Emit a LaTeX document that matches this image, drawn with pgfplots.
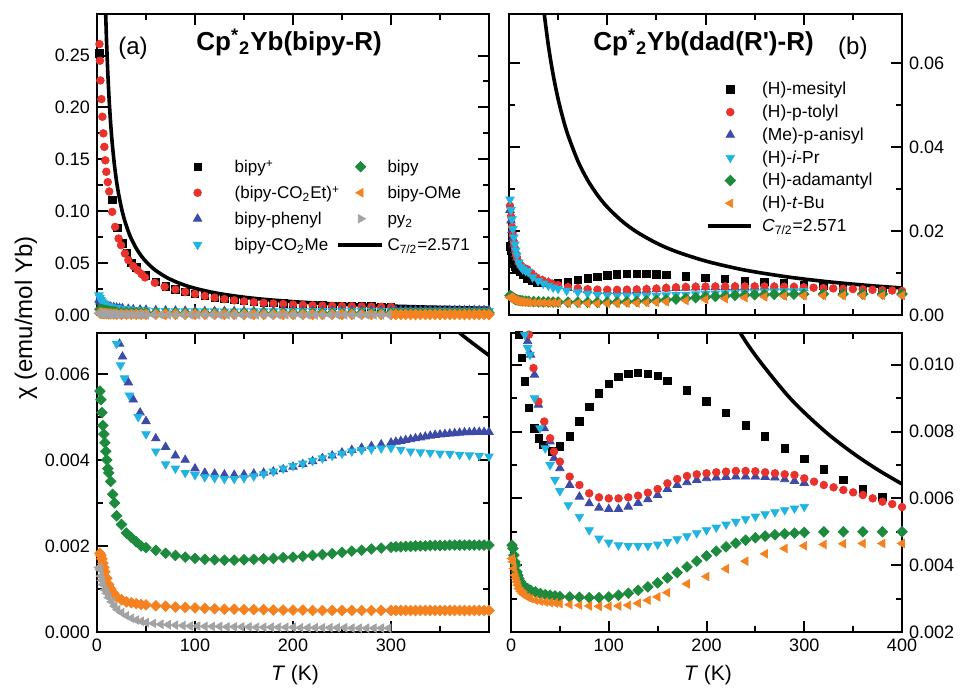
\documentclass[border=0pt]{standalone}
\usepackage{fontspec}
\setmainfont{Liberation Sans}
\usepackage{pgfplots}
\usepackage{pgfplotstable}
\pgfplotsset{compat=1.18}

\definecolor{cred}{HTML}{E8322B}
\definecolor{cblue}{HTML}{3C4BA8}
\definecolor{ccyan}{HTML}{22B4E0}
\definecolor{cgreen}{HTML}{1E8A3E}
\definecolor{corange}{HTML}{F58220}
\definecolor{cgray}{HTML}{A3A3A3}

% ---- panel (a) data ----
\pgfplotstableread{
T chi
2.5 0.252
15.6 0.111
20.7 0.084
26 0.069
30.5 0.060
35 0.050
40 0.046
50 0.038
60 0.032
70 0.0275
80 0.0247
90 0.0222
100 0.0203
110 0.0186
120 0.0171
130 0.0158
140 0.0147
150 0.0138
160 0.0129
170 0.0122
180 0.0116
190 0.0110
200 0.0105
210 0.0100
220 0.0096
230 0.0093
240 0.0090
250 0.0087
260 0.0085
270 0.0083
280 0.0081
290 0.0079
300 0.0077
}\tAbpy
\pgfplotstableread{
T chi
2.5 0.261
3 0.245
3.5 0.226
4.5 0.208
5.5 0.191
6.5 0.175
7.5 0.162
8.5 0.149
9.5 0.138
11 0.128
12.5 0.119
15.5 0.0994
18.5 0.0849
22 0.0737
24.5 0.0673
28.5 0.0593
32 0.0529
37 0.0471
41.5 0.0433
45.5 0.0394
49 0.0362
59 0.0310
69 0.0272
80 0.0245
90 0.0222
100 0.0203
110 0.0184
120 0.0167
130 0.0153
140 0.0141
150 0.0131
160 0.0123
170 0.0116
180 0.0110
190 0.0105
200 0.0100
210 0.0096
220 0.0093
230 0.0090
240 0.0088
250 0.0086
260 0.0084
270 0.0082
280 0.0081
290 0.0079
300 0.0078
}\tAest
\pgfplotstableread{
T chi
2 0.0145
3 0.0130
4 0.0120
6 0.0105
8 0.0096
10 0.0089
12 0.0083
14 0.0079
17 0.0075
20 0.0071
23 0.0067
26 0.0064
32 0.0058
37 0.0054
44 0.0051
50 0.0049
60 0.0045
70 0.0043
80 0.0041
90 0.0040
100 0.0038
110 0.0037
120 0.00368
130 0.00366
140 0.00365
150 0.00366
160 0.00368
170 0.00370
180 0.00373
190 0.00378
200 0.00384
210 0.00390
220 0.00397
230 0.00404
240 0.00410
250 0.00417
260 0.00423
270 0.00428
280 0.00432
290 0.00436
300 0.00440
305 0.00442
310 0.00444
315 0.00446
320 0.00448
325 0.00450
330 0.00452
335 0.00454
340 0.00456
345 0.00458
350 0.00459
355 0.00460
360 0.00461
365 0.00462
370 0.00463
375 0.00464
380 0.00464
385 0.00465
390 0.00465
395 0.00465
400 0.00465
}\tAph
\pgfplotstableread{
T chi
2 0.0190
3 0.0165
4 0.0145
5 0.0130
6 0.0118
8 0.0101
10 0.0090
12 0.0083
15 0.0076
20 0.0067
24 0.0062
28 0.0059
33 0.0055
42 0.0050
50 0.0046
60 0.0042
70 0.0039
80 0.0038
90 0.0037
100 0.00365
110 0.00360
120 0.00358
130 0.00356
140 0.00356
150 0.00358
160 0.00362
170 0.00367
180 0.00373
190 0.00380
200 0.00386
210 0.00392
220 0.00398
230 0.00404
240 0.00410
250 0.00415
260 0.00420
270 0.00423
280 0.00425
290 0.00427
300 0.00428
310 0.00424
320 0.00420
330 0.00418
340 0.00417
350 0.00415
360 0.00414
370 0.00412
380 0.00411
390 0.00410
400 0.00408
}\tAme
\pgfplotstableread{
T chi
3 0.0056
4 0.0054
5 0.0051
6 0.0048
7 0.0046
8 0.0044
9 0.0042
10 0.0040
11 0.0038
12 0.0037
14 0.0035
16 0.0032
18 0.0030
20 0.0027
25 0.0025
30 0.0023
35 0.0022
40 0.0021
45 0.0020
50 0.00196
60 0.00190
70 0.00183
80 0.00178
90 0.00174
100 0.00171
110 0.00169
120 0.00168
130 0.00167
140 0.00167
150 0.00168
160 0.00169
170 0.00170
180 0.00171
190 0.00173
200 0.00174
210 0.00176
220 0.00178
230 0.00180
240 0.00182
250 0.00185
260 0.00188
270 0.00190
280 0.00193
290 0.00195
300 0.00197
305 0.00198
310 0.00198
315 0.00199
320 0.00199
325 0.00200
330 0.00200
335 0.00200
340 0.00201
345 0.00201
350 0.00201
355 0.00201
360 0.00202
365 0.00202
370 0.00202
375 0.00202
380 0.00202
385 0.00202
390 0.00202
395 0.00202
400 0.00202
}\tAbipy
\pgfplotstableread{
T chi
3 0.00183
4 0.00178
5 0.00170
6 0.00160
7 0.00150
8 0.00140
10 0.00125
12 0.00110
14 0.00100
17 0.00090
20 0.00082
25 0.00075
30 0.00070
35 0.00068
40 0.00066
45 0.00064
50 0.00063
60 0.00061
70 0.00060
80 0.00058
90 0.00057
100 0.00056
110 0.00055
120 0.00054
130 0.00053
140 0.00053
150 0.00052
160 0.00052
170 0.00052
180 0.00051
190 0.00051
200 0.00051
210 0.00051
220 0.00050
230 0.00050
240 0.00050
250 0.00050
260 0.00050
270 0.00050
280 0.00050
290 0.00050
300 0.00050
305 0.00050
310 0.00050
315 0.00050
320 0.00050
325 0.00050
330 0.00050
335 0.00050
340 0.00050
345 0.00050
350 0.00050
355 0.00050
360 0.00050
365 0.00050
370 0.00050
375 0.00050
380 0.00050
385 0.00050
390 0.00050
395 0.00050
400 0.00050
}\tAome
\pgfplotstableread{
T chi
2 0.00150
3 0.00145
4 0.00130
5 0.00120
6 0.00110
8 0.00098
10 0.00090
12 0.00080
15 0.00070
18 0.00060
21 0.00052
25 0.00045
30 0.00038
35 0.00032
40 0.00028
45 0.00025
50 0.00022
57.5 0.00020
65 0.00018
72.5 0.00017
80 0.00016
87.5 0.00015
95 0.00014
102.5 0.00014
110 0.00013
117.5 0.00013
125 0.00013
132.5 0.00012
140 0.00012
147.5 0.00012
155 0.00012
162.5 0.00011
170 0.00011
177.5 0.00011
185 0.00011
192.5 0.00011
200 0.00011
207.5 0.00010
215 0.00010
222.5 0.00010
230 0.00010
237.5 0.00010
245 0.00010
252.5 0.00010
260 0.00009
267.5 0.00009
275 0.00009
282.5 0.00009
290 0.00009
297.5 0.00009
}\tApy
% ---- Curie line C/T, C = 2.571 ----
\pgfplotstableread{
T chi
8.8 0.29216
9.5 0.27063
10 0.25710
11 0.23373
12 0.21425
13 0.19777
14 0.18364
15 0.17140
16 0.16069
18 0.14283
20 0.12855
22 0.11686
25 0.10284
28 0.09182
32 0.08034
35 0.07346
40 0.06428
45 0.05713
50 0.05142
55 0.04675
60 0.04285
70 0.03673
80 0.03214
90 0.02857
100 0.02571
115 0.02236
130 0.01978
150 0.01714
170 0.01512
200 0.01286
230 0.01118
250 0.01028
280 0.00918
300 0.00857
325 0.00791
350 0.00735
375 0.00686
400 0.00643
}\tCurie
% ---- panel (b) data ----
\pgfplotstableread{
T chi
1 0.0163
2 0.0152
3 0.0141
4 0.0131
5 0.0123
6 0.0116
7 0.0111
8.2 0.0109
11 0.0102
14.3 0.0095
18.4 0.0087
23.9 0.0081
28.6 0.0078
33 0.0076
42 0.0074
50 0.00756
60 0.00786
70 0.00830
80 0.00873
90 0.00914
100 0.00943
110 0.00963
120 0.00972
130 0.00975
140 0.00972
150 0.00966
160 0.00952
180 0.00923
200 0.00890
220 0.00855
240 0.00818
260 0.00785
280 0.00750
300 0.00718
320 0.00687
340 0.00655
360 0.00627
380 0.00605
}\tBmes
\pgfplotstableread{
T chi
1 0.0260
2 0.0235
3 0.0210
4 0.0190
5 0.0172
6 0.0158
7 0.0146
8 0.0137
10 0.0125
12 0.0118
14 0.0114
16 0.0111
18.4 0.0109
23 0.0099
28 0.0089
34 0.0083
40 0.0078
44 0.0074
50 0.0071
60 0.00665
70 0.00640
80 0.00615
90 0.00603
100 0.00600
110 0.00600
120 0.00603
130 0.00608
140 0.00617
150 0.00628
160 0.00645
170 0.00658
180 0.00667
190 0.00672
200 0.00675
210 0.00678
220 0.00680
230 0.00682
240 0.00682
250 0.00681
260 0.00678
270 0.00675
280 0.00672
290 0.00670
300 0.00660
310 0.00650
320 0.00640
330 0.00633
340 0.00625
350 0.00618
360 0.00610
370 0.00600
380 0.00590
390 0.00583
400 0.00574
}\tBtol
\pgfplotstableread{
T chi
1 0.0250
2 0.0225
3 0.0202
4 0.0183
5 0.0168
6 0.0155
7 0.0145
8 0.0137
10 0.0127
12 0.0119
14 0.0113
17 0.0107
20 0.0103
24 0.0097
28 0.0088
34 0.0081
40 0.0077
44 0.0072
50 0.0069
60 0.0064
70 0.00605
80 0.00585
90 0.00572
100 0.00568
110 0.00568
120 0.00575
130 0.00586
140 0.00597
150 0.00610
160 0.00628
170 0.00640
180 0.00648
190 0.00655
200 0.00660
210 0.00662
220 0.00664
230 0.00665
240 0.00665
250 0.00665
260 0.00664
270 0.00662
280 0.00657
290 0.00652
300 0.00646
}\tBani
\pgfplotstableread{
T chi
1 0.0275
2 0.0250
3 0.0228
4 0.0205
5 0.0185
6 0.0168
7 0.0154
8 0.0142
10 0.0125
12 0.0115
14 0.0109
17 0.0105
19.4 0.0103
24 0.0090
29.6 0.0081
35 0.0075
40 0.0070
45 0.00655
50 0.00622
58.6 0.00580
70 0.00545
80 0.00505
90 0.00480
100 0.00468
110 0.00460
120 0.00458
130 0.00458
140 0.00458
150 0.00462
160 0.00470
170 0.00478
180 0.00487
190 0.00496
200 0.00505
210 0.00513
220 0.00522
230 0.00530
240 0.00538
250 0.00546
260 0.00553
270 0.00559
280 0.00565
290 0.00570
300 0.00575
}\tBipr
\pgfplotstableread{
T chi
1 0.0046
2 0.0045
3 0.0043
4 0.0041
5 0.0040
6 0.0038
7 0.0037
8 0.0036
10 0.0035
12 0.0034
14 0.00335
17 0.00330
20 0.00325
25 0.00320
30 0.00315
35 0.00312
40 0.00310
45 0.00308
50 0.00306
60 0.00305
70 0.00304
80 0.00303
90 0.00303
100 0.00305
110 0.00310
120 0.00316
130 0.00325
140 0.00335
150 0.00347
160 0.00362
170 0.00378
180 0.00395
190 0.00412
200 0.00428
210 0.00442
220 0.00455
230 0.00466
240 0.00475
250 0.00482
260 0.00487
270 0.00491
280 0.00494
290 0.00496
300 0.00498
320 0.00500
340 0.00500
360 0.00500
380 0.00500
400 0.00500
}\tBada
\pgfplotstableread{
T chi
1 0.0042
2 0.0041
3 0.0039
4 0.0037
5 0.0036
6 0.0035
7 0.0034
8 0.0033
10 0.00322
12 0.00315
14 0.00310
17 0.00304
20 0.00300
25 0.00295
30 0.00292
35 0.00290
40 0.00288
45 0.00287
50 0.00285
60 0.00282
70 0.00280
80 0.00278
90 0.00277
100 0.00277
110 0.00278
120 0.00280
130 0.00286
140 0.00295
150 0.00305
160 0.00318
180 0.00344
200 0.00366
220 0.00389
240 0.00412
260 0.00434
280 0.00450
300 0.00458
320 0.00462
340 0.00464
360 0.00465
380 0.00465
400 0.00465
}\tBtbu

\pgfplotsset{
  panel/.style={scale only axis, xmin=0, xmax=400,
    xtick={0,100,200,300,400}, minor x tick num=1, minor y tick num=1,
    tick align=inside, major tick length=5.5pt, minor tick length=3pt,
    axis line style={line width=1.2pt}, every tick/.style={line width=1pt, black},
    scaled y ticks=false, scaled x ticks=false,
    tick label style={font=\fontsize{9}{10}\selectfont},
    legend cell align=left},
  sq/.style={only marks, mark=square*, mark size=1.85pt, black},
  ci/.style={only marks, mark=*, mark size=1.9pt, cred},
  up/.style={only marks, mark=triangle*, mark size=2.4pt, cblue},
  dn/.style={only marks, mark=triangle*, mark size=2.4pt, ccyan, mark options={rotate=180}},
  di/.style={only marks, mark=square*, mark size=1.85pt, mark options={rotate=45}, #1},
  lt/.style={only marks, mark=triangle*, mark size=2.4pt, mark options={rotate=90}, #1},
  rt/.style={only marks, mark=triangle*, mark size=2.4pt, mark options={rotate=-90}, #1},
  curie/.style={black, line width=1.8pt, smooth, no marks},
  mkleg/.style={legend image code/.code={\path[draw=none] (-0.09cm,0cm) -- (0.67cm,0cm);
    \draw[mark repeat=2,mark phase=2,##1] plot coordinates {(0cm,0cm) (0.3cm,0cm) (0.6cm,0cm)};}},
  curielegend/.style={legend image code/.code={\draw[black, line width=1.8pt] (-0.09cm,0cm) -- (0.67cm,0cm);}},
}

\begin{document}
\begin{tikzpicture}
\useasboundingbox (0,0) rectangle (480.5pt,345pt);
\clip (0,0) rectangle (480.5pt,345pt);

% (a) top
\begin{axis}[panel, at={(48.5pt,187.5pt)}, anchor=south west, width=196pt, height=150.5pt,
  ymin=0, ymax=0.29, ytick={0,0.05,0.10,0.15,0.20,0.25},
  yticklabels={0.00,0.05,0.10,0.15,0.20,0.25}, xticklabels={,,,,},
  legend columns=2,
  legend style={draw=none, fill=none, inner sep=0pt,
    nodes={inner sep=0pt, text height=9.5pt, text depth=3.5pt},
    font=\fontsize{8.5}{10}\selectfont,
    at={(0.199,0.537)}, anchor=north west, /tikz/row sep=0pt, /tikz/column sep=0pt,
    /tikz/every odd column/.append style={column sep=2pt},
    /tikz/every even column/.append style={column sep=0pt}}]
  \addplot[sq, forget plot] table {\tAbpy};
  \addplot[ci, forget plot] table {\tAest};
  \addplot[up, forget plot] table {\tAph};
  \addplot[dn, forget plot] table {\tAme};
  \addplot[di=cgreen, forget plot] table {\tAbipy};
  \addplot[di=corange, forget plot] table {\tAome};
  \addplot[lt=cgray, forget plot] table {\tApy};
  \addplot[curie, forget plot] table {\tCurie};
  \addlegendimage{sq, mkleg}\addlegendentry{\makebox[57pt][l]{\hspace{6pt}bipy\textsuperscript{+}}}
  \addlegendimage{di=cgreen, mkleg}\addlegendentry{bipy}
  \addlegendimage{ci, mkleg}\addlegendentry{\makebox[57pt][l]{\hspace{6pt}(bipy-CO\textsubscript{2}Et)\textsuperscript{+}}}
  \addlegendimage{lt=corange, mkleg}\addlegendentry{bipy-OMe}
  \addlegendimage{up, mkleg}\addlegendentry{\makebox[57pt][l]{\hspace{6pt}bipy-phenyl}}
  \addlegendimage{rt=cgray, mkleg}\addlegendentry{py\textsubscript{2}}
  \addlegendimage{dn, mkleg}\addlegendentry{\makebox[57pt][l]{\hspace{6pt}bipy-CO\textsubscript{2}Me}}
  \addlegendimage{curielegend}\addlegendentry{C\textsubscript{7/2}=2.571}
  \node[anchor=base, font=\fontsize{12}{14}\selectfont] at (rel axis cs:0.092,0.865) {(a)};
  \node[anchor=base, font=\bfseries\fontsize{13}{15}\selectfont] at (rel axis cs:0.49,0.88) {Cp\textsuperscript{*}\textsubscript{2}Yb(bipy-R)};
\end{axis}

% (a) bottom
\begin{axis}[panel, at={(48.5pt,29pt)}, anchor=south west, width=196pt, height=149.5pt,
  ymin=0, ymax=0.00695, ytick={0,0.002,0.004,0.006},
  yticklabels={0.000,0.002,0.004,0.006}, xticklabels={0,100,200,300,}]
  \addplot[up] table {\tAph};
  \addplot[dn] table {\tAme};
  \addplot[di=cgreen] table {\tAbipy};
  \addplot[di=corange] table {\tAome};
  \addplot[lt=cgray] table {\tApy};
  \addplot[curie] table {\tCurie};
\end{axis}

% (b) top
\begin{axis}[panel, at={(254.5pt,187.5pt)}, anchor=south west, width=196.5pt, height=150.5pt,
  ymin=0, ymax=0.0717, ytick={0,0.02,0.04,0.06}, yticklabel pos=right,
  yticklabels={0.00,0.02,0.04,0.06}, xticklabels={,,,,},
  legend style={draw=none, fill=none, inner sep=0pt,
    nodes={inner sep=0pt, text height=8.4pt, text depth=3pt},
    font=\fontsize{8.7}{10}\selectfont,
    at={(0.501,0.789)}, anchor=north west, /tikz/row sep=0pt, /tikz/column sep=0pt,
    /tikz/every odd column/.append style={column sep=2pt}}]
  \addplot[sq, forget plot] table {\tBmes};
  \addplot[up, forget plot] table {\tBani};
  \addplot[ci, forget plot] table {\tBtol};
  \addplot[dn, forget plot] table {\tBipr};
  \addplot[di=cgreen, forget plot] table {\tBada};
  \addplot[lt=corange, forget plot] table {\tBtbu};
  \addplot[curie, forget plot] table {\tCurie};
  \addlegendimage{sq, mkleg}\addlegendentry{\hspace{2.5pt}(H)-mesityl}
  \addlegendimage{ci, mkleg}\addlegendentry{\hspace{2.5pt}(H)-p-tolyl}
  \addlegendimage{up, mkleg}\addlegendentry{\hspace{2.5pt}(Me)-p-anisyl}
  \addlegendimage{dn, mkleg}\addlegendentry{\hspace{2.5pt}(H)-\textit{i}-Pr}
  \addlegendimage{di=cgreen, mkleg}\addlegendentry{\hspace{2.5pt}(H)-adamantyl}
  \addlegendimage{lt=corange, mkleg}\addlegendentry{\hspace{2.5pt}(H)-\textit{t}-Bu}
  \addlegendimage{curielegend}\addlegendentry{\hspace{2.5pt}\textit{C}\textsubscript{7/2}=2.571}
  \node[anchor=base, font=\bfseries\fontsize{13}{15}\selectfont] at (rel axis cs:0.495,0.88) {Cp\textsuperscript{*}\textsubscript{2}Yb(dad(R\textquotesingle)-R)};
  \node[anchor=base, font=\fontsize{12}{14}\selectfont] at (rel axis cs:0.875,0.865) {(b)};
\end{axis}

% (b) bottom
\begin{axis}[panel, at={(255.5pt,29pt)}, anchor=south west, width=195.5pt, height=149.5pt,
  ymin=0.002, ymax=0.01095, ytick={0.002,0.004,0.006,0.008,0.010}, yticklabel pos=right,
  yticklabels={0.002,0.004,0.006,0.008,0.010}, xticklabels={0,100,200,300,400}]
  \addplot[sq] table {\tBmes};
  \addplot[up] table {\tBani};
  \addplot[ci] table {\tBtol};
  \addplot[dn] table {\tBipr};
  \addplot[di=cgreen] table {\tBada};
  \addplot[lt=corange] table {\tBtbu};
  \addplot[curie] table {\tCurie};
\end{axis}

\node[rotate=90, font=\fontsize{12}{14}\selectfont] at (13pt,186pt) {χ (emu/mol Yb)};
\node[font=\fontsize{10.5}{12}\selectfont] at (147.5pt,7.5pt) {\textit{T} (K)};
\node[font=\fontsize{10.5}{12}\selectfont] at (354pt,7.5pt) {\textit{T} (K)};
\end{tikzpicture}
\end{document}
